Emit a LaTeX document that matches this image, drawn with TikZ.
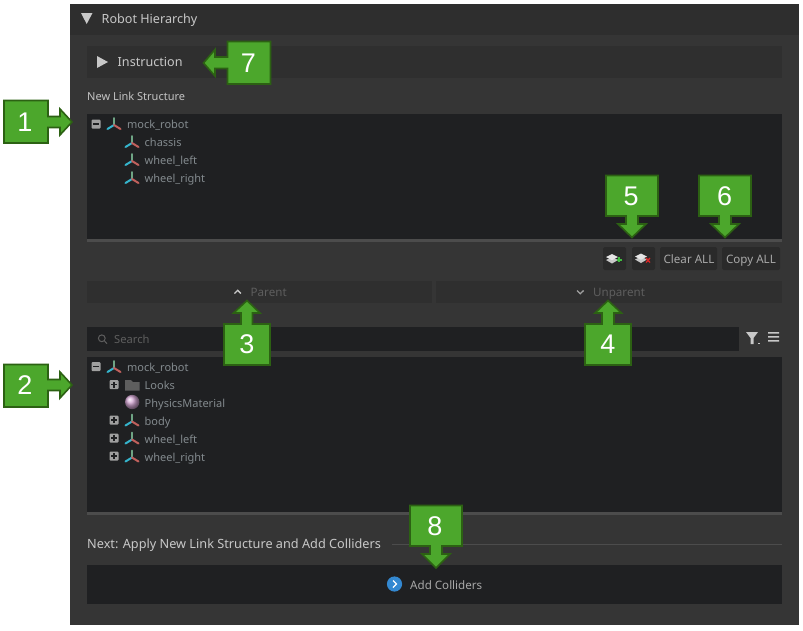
\documentclass[tikz,border=0pt]{standalone}
\usepackage{fontspec}
\setmainfont{Noto Sans}
\newfontfamily\callfont{Liberation Sans}
\definecolor{panelc}{HTML}{353535}
\definecolor{headc}{HTML}{2E2E2E}
\definecolor{barc}{HTML}{2F2F2F}
\definecolor{treec}{HTML}{1F2022}
\definecolor{sepc}{HTML}{4C4C4C}
\definecolor{btnc}{HTML}{2A2A2A}
\definecolor{txtc}{HTML}{A8A8A8}
\definecolor{lightt}{HTML}{C8C8C8}
\definecolor{treet}{HTML}{838A8E}
\definecolor{dimt}{HTML}{5E5E5E}
\definecolor{callg}{HTML}{4CA72C}
\definecolor{calld}{HTML}{2C6113}
\definecolor{axg}{HTML}{6FA585}
\definecolor{axb}{HTML}{35B4CC}
\definecolor{axr}{HTML}{C0605C}
\tikzset{
  x=1pt,y=-1pt,
  callshape/.style={fill=callg,draw=calld,line width=1.6pt,line join=miter},
  callnum/.style={font=\callfont\fontsize{27}{27}\selectfont,text=white,inner sep=0pt},
  uitext/.style={font=\fontsize{#1}{#1}\selectfont,inner sep=0pt,anchor=base west,yshift=-4pt},
  uicenter/.style={font=\fontsize{#1}{#1}\selectfont,inner sep=0pt,anchor=base,yshift=-4pt},
  treelabel/.style={uitext=11,text=treet},
  btnbox/.style={fill=btnc,rounded corners=1.5pt,draw=none},
  pm/.style={fill=#1,rounded corners=1pt,draw=none},
}
\newcommand{\axisicon}[2]{%
  \begin{scope}[shift={(#1,#2)},line width=2pt,line cap=round]
    \draw[axg] (0,1) -- (0,-6);
    \draw[axb] (0,1) -- (-6.5,5);
    \draw[axr] (0,1) -- (6.5,5);
  \end{scope}}
\newcommand{\minusbox}[2]{%
  \fill[pm=lightt!80!black] (#1-4.5,#2-4.5) rectangle (#1+4.5,#2+4.5);
  \fill[treec] (#1-3,#2-.8) rectangle (#1+3,#2+.8);}
\newcommand{\plusbox}[2]{%
  \fill[pm=lightt!80!black] (#1-4.5,#2-4.5) rectangle (#1+4.5,#2+4.5);
  \fill[treec] (#1-3,#2-.8) rectangle (#1+3,#2+.8);
  \fill[treec] (#1-.8,#2-3) rectangle (#1+.8,#2+3);}
\newcommand{\layericon}[2]{%
  \begin{scope}[shift={(#1,#2)}]
    \fill[lightt] (-7,1) -- (-1,-2) -- (5,1) -- (-1,4.5) -- cycle;
    \fill[white!90!black] (-7,-2) -- (-1,-5) -- (5,-2) -- (-1,1.2) -- cycle;
  \end{scope}}
\begin{document}
\begin{tikzpicture}
\useasboundingbox (0,0) rectangle (803,630);
\fill[white] (0,0) rectangle (803,630);
% panel
\fill[panelc] (70,4) rectangle (799,625);
\fill[headc] (70,4) rectangle (799,35);
\fill[lightt] (81,13) -- (92.5,13) -- (86.7,24) -- cycle;
\node[uitext=12.6,text=lightt] (title) at (101.5,19) {Robot Hierarchy};
\fill[barc] (87,46) rectangle (782,78);
\fill[lightt] (97,56) -- (108,62) -- (97,68) -- cycle;
\node[uitext=12.6,text=lightt] (instr) at (117.5,62.5) {Instruction};
\node[uitext=11,text=lightt!110!white] (newlink) at (87,96.5) {New Link Structure};
% tree 1
\fill[treec] (87,114) rectangle (782,239);
\fill[sepc] (87,239) rectangle (782,242);
\minusbox{96}{124}
\axisicon{114}{124}
\node[treelabel] (t1a) at (127,124) {mock\_robot};
\axisicon{132}{142}
\node[treelabel] (t1b) at (144.5,142) {chassis};
\axisicon{132}{160}
\node[treelabel] (t1c) at (144.5,160) {wheel\_left};
\axisicon{132}{178}
\node[treelabel] (t1d) at (144.5,178) {wheel\_right};
% buttons
\fill[btnbox] (603,247) rectangle (626,270);
\layericon{613}{259}
\fill[green!50!gray] (616.5,259) rectangle (621.5,260.6);
\fill[green!50!gray] (618.2,257.3) rectangle (619.8,262.3);
\fill[btnbox] (632,247) rectangle (655,270);
\layericon{642}{258.5}
\draw[red!70!gray,line width=1.3pt] (646,258) -- (650,262.5) (650,258) -- (646,262.5);
\fill[btnbox] (660,247) rectangle (717,270);
\node[uicenter=11.6,text=txtc] (clear) at (689,259) {Clear ALL};
\fill[btnbox] (722,247) rectangle (780,270);
\node[uicenter=11.6,text=txtc] (copy) at (751,259) {Copy ALL};
% parent bars
\fill[barc] (87,281) rectangle (432,303);
\fill[barc] (436,281) rectangle (782,303);
\draw[lightt,line width=1.3pt] (234.5,293.5) -- (237.7,290.3) -- (240.9,293.5);
\node[uitext=11.6,text=dimt] (parent) at (250.5,292) {Parent};
\draw[lightt!80!black,line width=1.3pt] (577,290.5) -- (580.3,293.7) -- (583.6,290.5);
\node[uitext=11.6,text=dimt] (unparent) at (593,292) {Unparent};
% search
\fill[treec] (87,327) rectangle (739,351);
\draw[dimt,line width=1pt] (101.8,338.3) circle (3.4) (104.3,340.8) -- (107,343.6);
\node[uitext=11.2,text=dimt] (search) at (114,339.5) {Search};
\fill[lightt] (746,332) -- (758,332) -- (753.5,338) -- (753.5,344) -- (750.5,344) -- (750.5,338) -- cycle;
\fill[lightt] (758,342.5) rectangle (759.5,344);
\fill[lightt] (768,332) rectangle (779,333.6) (768,336) rectangle (779,337.6) (768,340) rectangle (779,341.6);
% tree 2
\fill[treec] (87,357) rectangle (782,512);
\fill[sepc] (87,512) rectangle (782,515);
\minusbox{96}{366.5}
\axisicon{114}{367}
\node[treelabel] (t2a) at (127,367) {mock\_robot};
\plusbox{114}{384.5}
\fill[dimt] (125,380) -- (131,380) -- (133,382) -- (139.5,382) -- (139.5,390.5) -- (125,390.5) -- cycle;
\node[treelabel] (t2b) at (144.5,385) {Looks};
\shade[ball color=violet!35!white] (132.2,402) circle (7.2);
\node[treelabel] (t2c) at (144.5,403) {PhysicsMaterial};
\plusbox{114}{420}
\axisicon{132}{420.5}
\node[treelabel] (t2d) at (144.5,421) {body};
\plusbox{114}{438}
\axisicon{132}{438.5}
\node[treelabel] (t2e) at (144.5,439) {wheel\_left};
\plusbox{114}{456}
\axisicon{132}{456.5}
\node[treelabel] (t2f) at (144.5,457) {wheel\_right};
% next
\node[uitext=12.7,text=lightt] (next) at (87,544.5) {Next: Apply New Link Structure and Add Colliders};
\draw[sepc,line width=.8pt] (392,544.5) -- (782,544.5);
\fill[treec] (87,565) rectangle (782,604);
\fill[cyan!60!blue!85!white] (394.5,584) circle (7.6);
\draw[white,line width=1.3pt] (393,580.5) -- (396.5,584) -- (393,587.5);
\node[uitext=11.6,text=txtc] (addc) at (410,585) {Add Colliders};
% callouts
\draw[callshape] (4,100.5) -- (48,100.5) -- (48,116.5) -- (60,116.5) -- (60,109) -- (72,122) -- (60,135) -- (60,127.5) -- (48,127.5) -- (48,143) -- (4,143) -- cycle;
\node[callnum] (c1) at (25,122) {1};
\draw[callshape] (4,364.5) -- (48,364.5) -- (48,379.5) -- (60,379.5) -- (60,372) -- (72,385) -- (60,398) -- (60,390.5) -- (48,390.5) -- (48,407) -- (4,407) -- cycle;
\node[callnum] (c2) at (25,385) {2};
\draw[callshape] (270.5,41.5) -- (227.5,41.5) -- (227.5,57) -- (215,57) -- (215,49.5) -- (203.5,63) -- (215,76) -- (215,68.5) -- (227.5,68.5) -- (227.5,84) -- (270.5,84) -- cycle;
\node[callnum] (c7) at (248.5,63) {7};
\draw[callshape] (224,365) -- (224,324) -- (241,324) -- (241,313) -- (233.5,313) -- (247,300.5) -- (260,313) -- (252.5,313) -- (252.5,324) -- (270,324) -- (270,365) -- cycle;
\node[callnum] (c3) at (247,344.5) {3};
\draw[callshape] (585,365) -- (585,324) -- (602,324) -- (602,313) -- (595,313) -- (608,300.5) -- (621.5,313) -- (614,313) -- (614,324) -- (631,324) -- (631,365) -- cycle;
\node[callnum] (c4) at (608,344.5) {4};
\draw[callshape] (606,175.5) -- (658,175.5) -- (658,216) -- (638,216) -- (638,224) -- (646,224) -- (632,237.5) -- (618,224) -- (626,224) -- (626,216) -- (606,216) -- cycle;
\node[callnum] (c5) at (631,196) {5};
\draw[callshape] (699,175.5) -- (751,175.5) -- (751,216) -- (731,216) -- (731,224) -- (739,224) -- (725,237.5) -- (711,224) -- (719,224) -- (719,216) -- (699,216) -- cycle;
\node[callnum] (c6) at (724.5,196) {6};
\draw[callshape] (410,505.5) -- (462,505.5) -- (462,546) -- (442,546) -- (442,554) -- (450,554) -- (436,568) -- (422,554) -- (430,554) -- (430,546) -- (410,546) -- cycle;
\node[callnum] (c8) at (435,526) {8};
\end{tikzpicture}
\end{document}
